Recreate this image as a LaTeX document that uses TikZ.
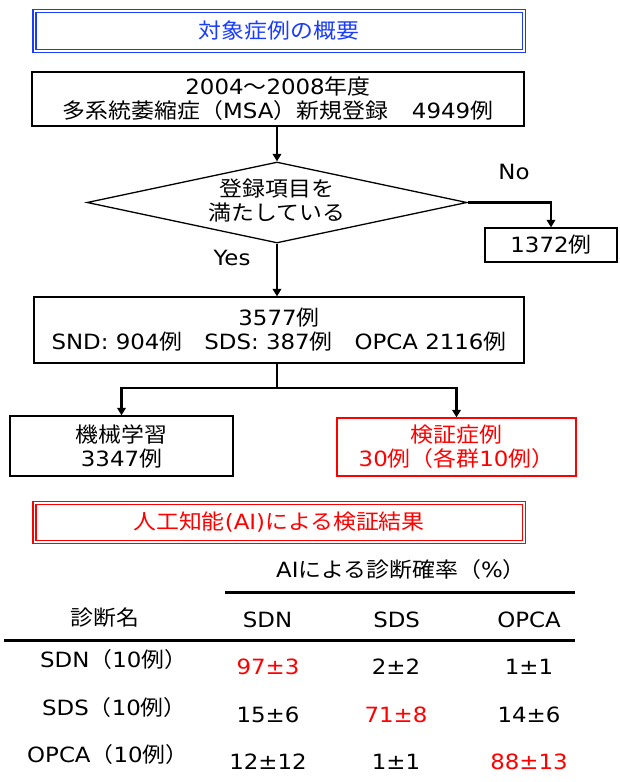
\documentclass[tikz,border=0pt]{standalone}
\usepackage{fontspec}
\setmainfont{DejaVu Sans}[FakeStretch=1.09]
\newfontfamily\jpfont{Noto Sans CJK JP}[FakeStretch=1.09]
\newcommand\J[1]{{\jpfont #1}}
\usetikzlibrary{shapes.geometric,arrows.meta}
\definecolor{ttlblue}{RGB}{25,60,255}
\definecolor{ttlred}{RGB}{255,0,0}
\begin{document}
\begin{tikzpicture}[x=1pt,y=-1pt,
  every node/.style={font=\fontsize{21}{24}\selectfont, inner sep=0pt, align=center},
  box/.style={draw=black, line width=1.3pt, rectangle},
  redbox/.style={draw=ttlred, line width=1.3pt, rectangle, text=ttlred},
  dbox/.style={rectangle, line width=1.5pt, double=white, double distance=1.5pt},
  conn/.style={line width=2.8pt, draw=black},
  arr/.style={conn, -{Triangle[width=8.5pt,length=7.5pt]}},
  rule/.style={line width=3pt, draw=black}
]
\useasboundingbox (0,0) rectangle (620,782);

% titles
\node[dbox, draw=ttlblue, text=ttlblue, minimum width=489.5pt, minimum height=40pt] (t1) at (279,30.75) {\J{対象症例の概要}};

% flow
\node[box, minimum width=492pt, minimum height=54pt] (b1) at (278,99)
  {2004\J{～}2008\J{年度}\\\J{多系統萎縮症（}MSA\J{）新規登録}\hspace{24pt}4949\J{例}};

\node[draw=black, line width=1.3pt, diamond, aspect=4.7, minimum width=380pt, minimum height=81pt] (dia) at (277,202.5) {};
\node (diatext) at (277,201) {\J{登録項目を}\\\J{満たしている}};

\node[box, minimum width=132pt, minimum height=34pt] (b1372) at (551,245) {1372\J{例}};
\node (nolbl) at (514,172) {No};
\node (yeslbl) at (232,258) {Yes};

\node[box, minimum width=490pt, minimum height=66pt] (b3577) at (279,330)
  {3577\J{例}\\SND: 904\J{例}\hspace{22pt}SDS: 387\J{例}\hspace{22pt}OPCA 2116\J{例}};

\node[box, minimum width=223pt, minimum height=60pt] (bml) at (121.5,446) {\J{機械学習}\\3347\J{例}};
\node[redbox, minimum width=239pt, minimum height=58pt] (bval) at (456.5,447) {\J{検証症例}\\30\J{例（各群}10\J{例）}};

\draw[arr] (b1.south -| dia.north) -- (dia.north);
\draw[arr] (dia.east) -| (b1372.north);
\draw[arr] (dia.south) -- (dia.south |- b3577.north);
\coordinate (split) at (277,388);
\draw[conn] (dia.south |- b3577.south) -- (split);
\draw[arr] (split) -| (bml.north);
\draw[arr] (split) -| (bval.north);

\node[dbox, draw=ttlred, text=ttlred, minimum width=489.5pt, minimum height=38.8pt] (t2) at (279,522.4) {\J{人工知能}(AI)\J{による検証結果}};

% table
\node[anchor=west] (thead) at (276,570) {AI\J{による診断確率（}\%\J{）}};
\coordinate (r1a) at (225,592); \coordinate (r1b) at (575,592);
\draw[rule] (r1a) -- (r1b);
\node (hname) at (104.7,618) {\J{診断名}};
\node (hsdn) at (267.5,619.5) {SDN};
\node (hsds) at (396.6,619.5) {SDS};
\node (hopca) at (529,619.5) {OPCA};
\coordinate (r2a) at (4,640); \coordinate (r2b) at (575,640);
\draw[rule] (r2a) -- (r2b);

\node[anchor=west] (lsdn) at (40,660) {SDN\J{（}10\J{例）}};
\node[anchor=west] (lsds) at (42,708) {SDS\J{（}10\J{例）}};
\node[anchor=west] (lopca) at (27,755) {OPCA\J{（}10\J{例）}};

\node[text=ttlred] (v11) at (268,667) {97±3};
\node (v12) at (396,667) {2±2};
\node (v13) at (529,667) {1±1};
\node (v21) at (268,715) {15±6};
\node[text=ttlred] (v22) at (396,715) {71±8};
\node (v23) at (529,715) {14±6};
\node (v31) at (268,762) {12±12};
\node (v32) at (396,762) {1±1};
\node[text=ttlred] (v33) at (529,762) {88±13};
\end{tikzpicture}
\end{document}
